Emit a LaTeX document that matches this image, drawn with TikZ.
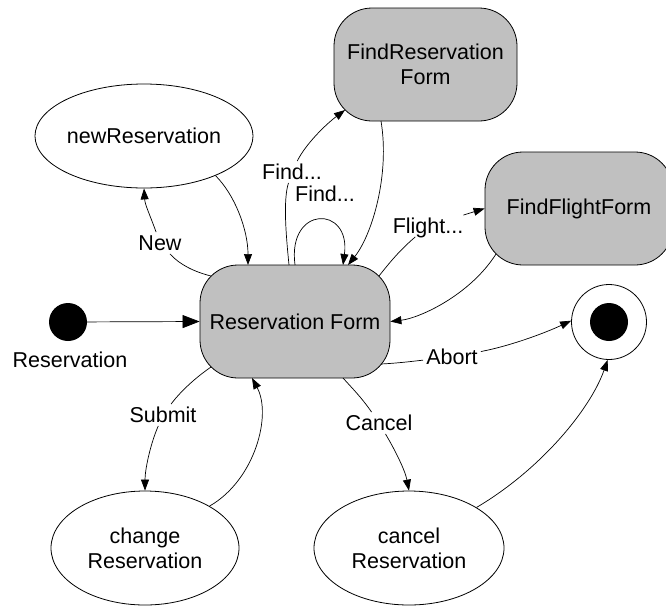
\documentclass[tikz,border=0pt]{standalone}
\usepackage{fontspec}
\setmainfont{Liberation Sans}
\usetikzlibrary{arrows.meta,shapes.geometric}
\definecolor{stategray}{RGB}{192,192,192}
\begin{document}
\begin{tikzpicture}[x=1pt,y=1pt,
  every node/.style={font=\fontsize{21.5}{25}\selectfont},
  formbox/.style={draw,fill=stategray,rounded corners=38pt,inner sep=0pt,align=center,line width=0.8pt},
  statell/.style={draw,ellipse,inner sep=0pt,align=center,line width=0.8pt},
  lbl/.style={inner sep=3pt,text height=15.5pt,text depth=0pt},
  conn/.style={line width=0.7pt},
  tip/.style={conn,-{Triangle[length=11pt,width=8pt]}},
  bigtip/.style={conn,-{Triangle[length=17pt,width=13pt]}}
]
\useasboundingbox (0,0) rectangle (666,-606);

% states
\node[formbox,minimum width=190pt,minimum height=113pt] (rf) at (295,-321.5) {Reservation Form};
\node[formbox,minimum width=183pt,minimum height=113pt] (frf) at (425.5,-64.5) {FindReservation\\Form};
\node[formbox,minimum width=188pt,minimum height=113pt] (ff) at (579,-208.5) {FindFlightForm};
\node[statell,minimum width=188pt,minimum height=104pt] (nr) at (144,-136) {newReservation};
\node[statell,minimum width=188pt,minimum height=114pt] (ch) at (145,-548) {change\\Reservation};
\node[statell,minimum width=190pt,minimum height=114pt] (cn) at (409,-548) {cancel\\Reservation};
\node[circle,fill=black,minimum size=38pt,inner sep=0pt] (init) at (68,-322) {};
\node[circle,draw,line width=0.8pt,minimum size=75pt,inner sep=0pt] (fin) at (609,-322) {};
\node[circle,fill=black,minimum size=38pt,inner sep=0pt] (findot) at (fin.center) {};
\node[lbl] (lRes) at (70,-360) {Reservation};

% border points on the rounded boxes
\coordinate (rfNW) at (211,-276);
\coordinate (rfNE) at (379,-276);
\coordinate (rfSW) at (211,-367);
\coordinate (rfSE) at (381,-364);
\coordinate (rfN1) at (248,-265);
\coordinate (rfN2) at (289,-265);
\coordinate (rfN3) at (295,-265);
\coordinate (rfN4) at (343,-265);
\coordinate (rfN5) at (348,-265);
\coordinate (rfS1) at (252,-378);
\coordinate (rfS2) at (343,-378);
\coordinate (frfSW) at (345,-110);
\coordinate (frfS) at (381,-121);
\coordinate (ffSW) at (496,-254);

% labels
\node[lbl] (lNew) at (160,-243) {New};
\node[lbl] (lFind1) at (292,-172) {Find...};
\node[lbl] (lFind2) at (325,-194) {Find...};
\node[lbl] (lFlight) at (428,-226) {Flight...};
\node[lbl] (lAbort) at (452,-357) {Abort};
\node[lbl] (lSubmit) at (163,-415) {Submit};
\node[lbl] (lCancel) at (379,-423) {Cancel};

% connectors
\draw[bigtip] (init) -- (rf.west);

\draw[tip] (nr.-29) .. controls (235,-195) and (248,-230) .. (rfN1);

\draw[conn] (rfNW) .. controls (195,-272) and (180,-265) .. (lNew);
\draw[tip] (lNew) .. controls (150,-215) and (145,-205) .. (nr.south);

\draw[conn] (rfN2) .. controls (286,-235) and (283,-200) .. (lFind1);
\draw[tip] (lFind1) .. controls (305,-145) and (325,-125) .. (frfSW);

\draw[tip] (frfS) .. controls (390,-175) and (372,-235) .. (rfN5);

\draw[tip] (rfN3) .. controls (287,-205) and (351,-205) .. (rfN4);

\draw[conn] (rfNE) .. controls (390,-262) and (400,-250) .. (lFlight);
\draw[tip] (lFlight) -- (ff.west);

\draw[tip] (ffSW) .. controls (470,-295) and (420,-318) .. (rf.east);

\draw[conn] (rfSE) .. controls (400,-363) and (415,-361) .. (lAbort);
\draw[tip] (lAbort) .. controls (510,-346) and (545,-333) .. (fin.178);

\draw[conn] (rfSW) .. controls (195,-378) and (180,-392) .. (lSubmit);
\draw[tip] (lSubmit) .. controls (150,-445) and (145,-470) .. (ch.north);

\draw[tip] (ch.33) .. controls (255,-480) and (272,-415) .. (rfS1);

\draw[conn] (rfS2) .. controls (352,-388) and (362,-398) .. (lCancel);
\draw[tip] (lCancel) .. controls (395,-450) and (405,-470) .. (cn.north);

\draw[tip] (cn.31) .. controls (540,-470) and (590,-410) .. (fin.268);
\end{tikzpicture}
\end{document}
